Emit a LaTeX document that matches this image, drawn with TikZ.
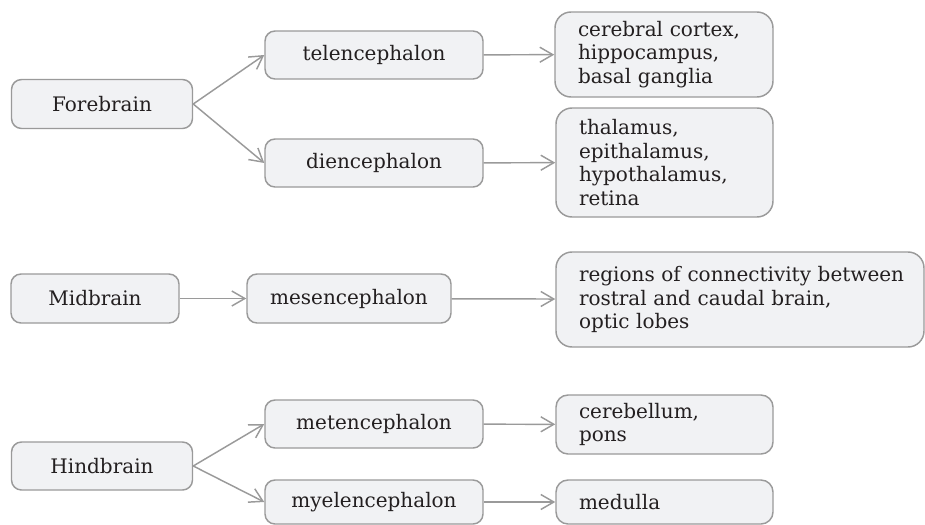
\documentclass[tikz,border=0pt]{standalone}
\usepackage{fontspec}
\setmainfont{DejaVu Serif}
\usetikzlibrary{arrows.meta}
\newdimen\pxu \pxu=0.75pt
\definecolor{edgegray}{HTML}{9A9A9A}
\definecolor{boxfill}{HTML}{F1F2F4}
\definecolor{txt}{HTML}{231F20}
\tikzset{
  brbox/.style={draw=edgegray, fill=boxfill, line width=1.1pt, rounded corners=7.5pt,
     inner sep=0pt, text=txt, font=\fontsize{15pt}{17.8pt}\selectfont},
  cbox/.style 2 args={brbox, minimum width=#1\pxu, minimum height=#2\pxu},
  lbox/.style 2 args={brbox, rounded corners=12pt, minimum height=#2\pxu, inner xsep=17.25pt,
     text width=#1\pxu-34.5pt, align=left},
  conn/.style={draw=edgegray, line width=1.1pt, -{Straight Barb[length=9.75pt, width=11.25pt]}}
}
\begin{document}
\begin{tikzpicture}[x=0.75pt, y=-0.75pt]
\path[use as bounding box] (0,0) rectangle (925,525);
% left column
\node[cbox={181}{49}] (fore) at (102,104) {Forebrain};
\node[cbox={168}{49}] (mid) at (95,298.5) {Midbrain};
\node[cbox={181}{48}] (hind) at (102,466) {Hindbrain};
% middle column
\node[cbox={218}{48}] (tel) at (374,55) {telencephalon};
\node[cbox={218}{48}] (dien) at (374,163) {diencephalon};
\node[cbox={204}{49}] (mes) at (349,298.5) {mesencephalon};
\node[cbox={218}{48}] (met) at (374,424) {metencephalon};
\node[cbox={218}{44}] (mye) at (374,502) {myelencephalon};
% right column
\node[lbox={218}{85}] (cer) at (664,54.5) {\mbox{cerebral cortex,}\\hippocampus,\\basal ganglia};
\node[lbox={217}{109}] (thal) at (664.5,162.5) {thalamus,\\epithalamus,\\\mbox{hypothalamus,}\\retina};
\node[lbox={368}{95}] (reg) at (740,299.5) {\mbox{regions of connectivity between}\\\mbox{rostral and caudal brain,}\\optic lobes};
\node[lbox={217}{59}, rounded corners=9pt] (cbl) at (664.5,424.5) {cerebellum,\\pons};
\node[lbox={217}{44}, rounded corners=9pt] (med) at (664.5,502) {medulla};
% connectors
\draw[conn] (fore.east) -- (tel.west);
\draw[conn] (fore.east) -- (dien.west);
\draw[conn] (tel) -- (cer);
\draw[conn] (dien) -- (thal);
\draw[conn] (mid) -- (mes);
\draw[conn] (mes) -- (reg);
\draw[conn] (hind.east) -- (met.west);
\draw[conn] (hind.east) -- (mye.west);
\draw[conn] (met) -- (cbl);
\draw[conn] (mye) -- (med);
\end{tikzpicture}
\end{document}
